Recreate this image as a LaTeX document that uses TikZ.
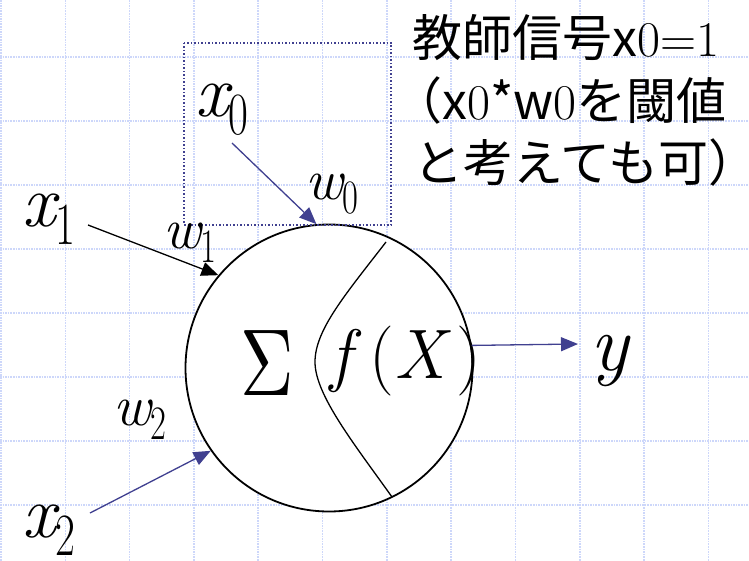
\documentclass[tikz,border=0pt]{standalone}
\usepackage{fontspec}
\usepackage{graphicx}
\newfontfamily\jpfont{Noto Sans CJK JP}
\usetikzlibrary{arrows.meta,positioning,calc}
\definecolor{navy}{RGB}{64,64,144}
\definecolor{gridblue}{RGB}{205,215,250}
\newcommand{\xvar}[1]{{\fontsize{74}{74}\selectfont\itshape x}\raisebox{-18pt}{\scalebox{0.72}[1]{\fontsize{60}{60}\selectfont #1}}}
\newcommand{\wvar}[1]{{\fontsize{58}{58}\selectfont\itshape w}\raisebox{-14pt}{\scalebox{0.72}[1]{\fontsize{48}{48}\selectfont #1}}}
\newcommand{\serifpart}[1]{{\rmfamily\fontsize{50}{50}\selectfont #1}}

\begin{document}
\begin{tikzpicture}[x=1pt, y=-1pt, >={Triangle[length=17pt,width=14pt]},
  gridline/.style={draw=gridblue, line width=1.6pt, densely dotted},
  lbl/.style={inner sep=0pt, anchor=base west, font=\rmfamily},
  note/.style={inner sep=0pt, anchor=base west, font=\fontsize{50}{50}\selectfont\jpfont},
  link/.style={->, line width=1.3pt, draw=navy}]
\useasboundingbox (0,0) rectangle (749,561);
\fill[white] (0,0) rectangle (749,561);
\foreach \i in {0,...,11}
  \draw[gridline] ({1+64.3*\i},0) -- ++(0,561);
\foreach \j in {0,...,7}
  \draw[gridline] (0,{57+64*\j}) -- ++(749,0);
\node[circle, draw, line width=1.8pt, fill=white, minimum size=287pt, inner sep=0pt] (neuron) at (329,368) {};
\draw[navy, dotted, line width=1.5pt] (184,43) rectangle (391,225);
\draw[line width=1.3pt] (386,242) .. controls (345,295) and (315,330) .. (315,362)
  .. controls (315,395) and (355,445) .. (392,497);
\node[lbl] (x0) at (195,117) {\xvar{0}};
\node[lbl] (x1) at (22,227) {\xvar{1}};
\node[lbl] (x2) at (22,537) {\xvar{2}};
\node[lbl] (w0) at (305,200) {\wvar{0}};
\node[lbl] (w1) at (163,248) {\wvar{1}};
\node[lbl] (w2) at (113,425) {\wvar{2}};
\node[lbl] (sum) at (240,395) {\scalebox{7.4}[9.5]{$\Sigma$}};
\node[lbl] (fx) at (330,378) {\fontsize{70}{70}\selectfont\textit{f}\kern8pt(\textit{X}\kern6pt)};
\node[lbl] (out) at (590,370) {\fontsize{80}{80}\selectfont\textit{y}};
\node[note] (note1) at (412,57) {教師信号x\serifpart{0=1}};
\node[note] (note2) at (412,120) {\kern-20pt（x\serifpart{0}*w\serifpart{0}を閾値};
\node[note] (note3) at (413,182) {と考えても可）};
\coordinate (x0s) at (232,143);
\coordinate (x1s) at (88,225);
\coordinate (x2s) at (90,513);
\coordinate (yend) at (578,344);
\draw[link] (x0s) -- (neuron.95.6);
\draw[link, draw=black] (x1s) -- (neuron.140.1);
\draw[link] (x2s) -- (neuron.215.9);
\draw[link] (neuron.9.5) -- (yend);
\end{tikzpicture}
\end{document}
